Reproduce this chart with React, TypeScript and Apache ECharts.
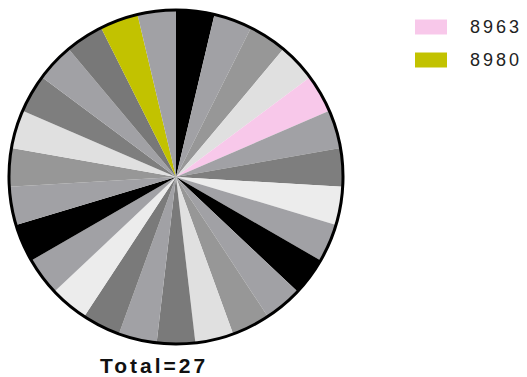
import { useEffect, useRef } from "react";
import * as echarts from "echarts";

// One slice per isolate; every isolate counts once.
const sliceNames = [
  "Other-1", "Other-2", "Other-3", "Other-4", "8963", "Other-6", "Other-7",
  "Other-8", "Other-9", "Other-10", "Other-11", "Other-12", "Other-13", "Other-14",
  "Other-15", "Other-16", "Other-17", "Other-18", "Other-19", "Other-20", "Other-21",
  "Other-22", "Other-23", "Other-24", "Other-25", "8980", "Other-27",
];
const sliceCounts = [
  1, 1, 1, 1, 1, 1, 1, 1, 1, 1, 1, 1, 1, 1,
  1, 1, 1, 1, 1, 1, 1, 1, 1, 1, 1, 1, 1,
];
const sliceColors = [
  "#000000", "#a1a1a5", "#979797", "#e0e0e0", "#f8c8ea", "#a1a1a5", "#7e7e7e",
  "#ececec", "#a1a1a5", "#000000", "#a1a1a5", "#979797", "#e0e0e0", "#7a7a7a",
  "#a1a1a5", "#7a7a7a", "#ececec", "#a1a1a5", "#000000", "#a1a1a5", "#979797",
  "#e0e0e0", "#7e7e7e", "#a1a1a5", "#787878", "#c2c200", "#a1a1a5",
];
const legendNames = ["8963", "8980"];

export default function App() {
  const ref = useRef<HTMLDivElement>(null);

  useEffect(() => {
    if (!ref.current) return;
    const chart = echarts.init(ref.current, undefined, { renderer: "svg" });
    const total = sliceCounts.reduce((a, b) => a + b, 0);
    const center = [176, 177];

    chart.setOption({
      animation: false,
      backgroundColor: "#ffffff",
      legend: {
        data: legendNames,
        orient: "vertical",
        left: 410,
        top: 13,
        icon: "rect",
        itemWidth: 32,
        itemHeight: 15,
        itemGap: 15,
        selectedMode: false,
        textStyle: {
          fontFamily: "Liberation Sans, Arial, sans-serif",
          fontSize: 18,
          color: "#222222",
          padding: [0, 0, 0, 18],
        },
      },
      graphic: [
        {
          type: "text",
          x: 154,
          y: 365,
          style: {
            text: `Total=${total}`,
            fontFamily: "Liberation Sans, Arial, sans-serif",
            fontWeight: "bold",
            fontSize: 21,
            fill: "#111111",
            textAlign: "center",
            textVerticalAlign: "middle",
          },
        },
      ],
      series: [
        {
          type: "pie",
          center,
          radius: 167,
          startAngle: 90,
          clockwise: true,
          label: { show: false },
          labelLine: { show: false },
          emphasis: { disabled: true },
          itemStyle: { borderWidth: 0 },
          data: sliceNames.map((name, i) => ({
            name,
            value: sliceCounts[i],
            itemStyle: { color: sliceColors[i] },
          })),
        },
        {
          type: "pie",
          name: "outline",
          center,
          radius: 167,
          silent: true,
          z: 3,
          label: { show: false },
          labelLine: { show: false },
          itemStyle: { color: "transparent", borderColor: "#000000", borderWidth: 3 },
          data: [{ name: "outline", value: 1 }],
        },
      ],
    });

    return () => chart.dispose();
  }, []);

  return (
    <>
      <style>{`.pie-host text { letter-spacing: 3px; }`}</style>
      <div
        ref={ref}
        className="pie-host"
        style={{ position: "absolute", left: 0, top: 0, width: 527, height: 377 }}
      />
    </>
  );
}
